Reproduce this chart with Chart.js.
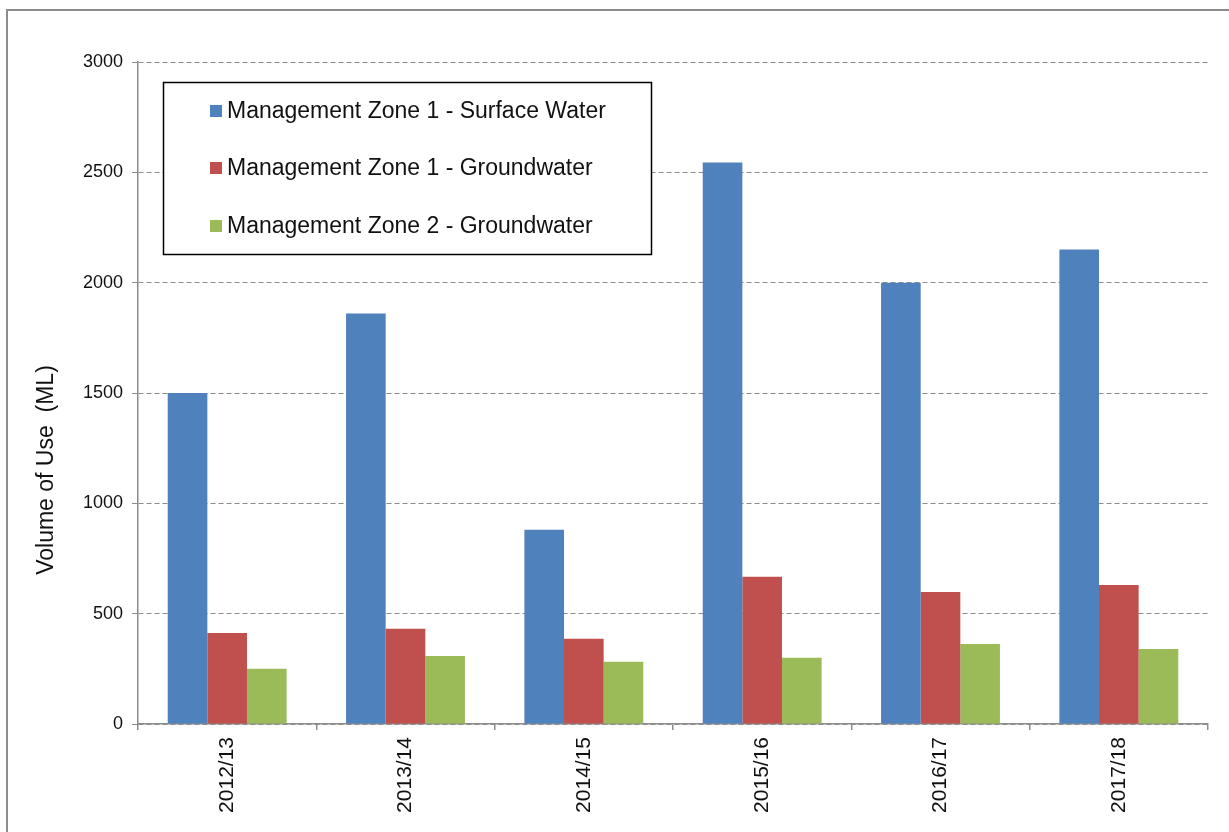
<!DOCTYPE html>
<html>
<head>
<meta charset="utf-8">
<script src="https://cdn.jsdelivr.net/npm/chart.js@4/dist/chart.umd.min.js"></script>
<style>
  html, body { margin: 0; padding: 0; background: #fff; }
  #wrap { position: relative; width: 1229px; height: 832px; }
</style>
</head>
<body>
<div id="wrap"><canvas id="c" width="1229" height="832"></canvas></div>
<script>
const categories = ['2012/13', '2013/14', '2014/15', '2015/16', '2016/17', '2017/18'];
const seriesNames = [
  'Management Zone 1 - Surface Water',
  'Management Zone 1 - Groundwater',
  'Management Zone 2 - Groundwater'
];
const mz1Surface = [1500, 1860, 880, 2545, 2000, 2150];
const mz1Ground = [412, 432, 386, 667, 598, 630];
const mz2Ground = [250, 308, 282, 300, 363, 340];
const seriesColors = ['#4F81BD', '#C0504D', '#9BBB59'];
const yTitle = 'Volume of Use  (ML)';
const yMin = 0, yMax = 3000, yStep = 500;

const FONT = '"Liberation Sans", Arial, sans-serif';
const GRID = '#8c8c8c';

const framePlugin = {
  id: 'frame',
  beforeDraw(chart) {
    const ctx = chart.ctx;
    ctx.save();
    ctx.fillStyle = '#fff';
    ctx.fillRect(0, 0, chart.width, chart.height);
    ctx.strokeStyle = '#8c8c8c';
    ctx.lineWidth = 2;
    ctx.strokeRect(7, 10, 1400, 1000);
    ctx.restore();
  }
};

// Excel centres the y title lower than the plot middle: shift only the title drawing
const titleShiftPlugin = {
  id: 'titleShift',
  afterLayout(chart) {
    const y = chart.scales.y;
    if (y._titleWrapped) return;
    const orig = y.drawTitle;
    y.drawTitle = function () {
      const t = this.top, b = this.bottom;
      this.top = t + 77; this.bottom = b + 77;
      orig.apply(this, arguments);
      this.top = t; this.bottom = b;
    };
    y._titleWrapped = true;
  }
};

const legendBoxPlugin = {
  id: 'legendBox',
  afterDraw(chart) {
    const ctx = chart.ctx;
    ctx.save();
    ctx.fillStyle = '#fff';
    ctx.fillRect(163.5, 82.5, 488, 172);
    ctx.strokeStyle = '#000';
    ctx.lineWidth = 1.5;
    ctx.strokeRect(163.5, 82.5, 488, 172);
    ctx.font = '23px ' + FONT;
    ctx.textBaseline = 'middle';
    ctx.textAlign = 'left';
    const rows = [111, 168, 226];
    chart.data.datasets.forEach((ds, i) => {
      ctx.fillStyle = ds.backgroundColor;
      ctx.fillRect(210, rows[i] - 6, 12, 12);
      ctx.fillStyle = '#111';
      ctx.fillText(ds.label, 227, rows[i] + 1);
    });
    ctx.restore();
  }
};

new Chart(document.getElementById('c'), {
  type: 'bar',
  data: {
    labels: categories,
    datasets: [
      { label: seriesNames[0], data: mz1Surface, backgroundColor: seriesColors[0] },
      { label: seriesNames[1], data: mz1Ground, backgroundColor: seriesColors[1] },
      { label: seriesNames[2], data: mz2Ground, backgroundColor: seriesColors[2] }
    ]
  },
  options: {
    responsive: false,
    animation: false,
    devicePixelRatio: 1,
    layout: { padding: { top: 62, right: 21, left: 0, bottom: 0 } },
    datasets: { bar: { categoryPercentage: 3 / 4.5, barPercentage: 1, borderWidth: 0 } },
    plugins: { legend: { display: false }, tooltip: { enabled: false } },
    scales: {
      x: {
        afterFit(s) { s.height = 108; },
        grid: { display: true, drawOnChartArea: false, offset: true, tickLength: 6, color: GRID, lineWidth: 1.5 },
        border: { color: GRID, width: 1.5 },
        ticks: { color: '#111', font: { family: FONT, size: 21 }, minRotation: 90, maxRotation: 90, padding: 7 }
      },
      y: {
        min: yMin, max: yMax,
        afterFit(s) { s.width = 138; },
        grid: { color: GRID, lineWidth: 1, tickLength: 6, tickColor: GRID, tickBorderDash: [] },
        border: { color: GRID, width: 1.5, dash: [5, 3] },
        ticks: { stepSize: yStep, color: '#111', font: { family: FONT, size: 18 }, padding: 9,
                 callback: (v) => String(v) },
        title: { display: true, text: yTitle, color: '#111', font: { family: FONT, size: 23 }, padding: { top: 33, bottom: 0 } }
      }
    }
  },
  plugins: [framePlugin, titleShiftPlugin, legendBoxPlugin]
});
</script>
</body>
</html>
